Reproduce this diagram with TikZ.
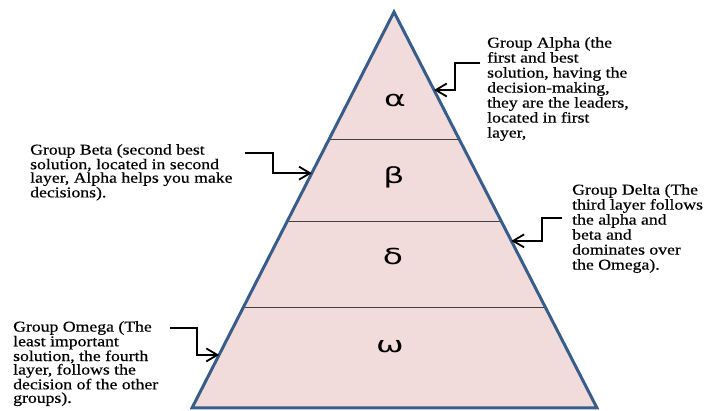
\documentclass[tikz,border=0pt]{standalone}
\usepackage{fontspec}
\setmainfont{Liberation Serif}[FakeStretch=1.18,FakeBold=0.5]
\newfontfamily\greekfont[FakeStretch=1.5]{DejaVu Sans}
\usetikzlibrary{arrows.meta,calc}
\definecolor{layerfill}{HTML}{F2DCDB}
\definecolor{layeredge}{HTML}{385D8A}
\definecolor{divline}{HTML}{404040}

\begin{document}
\begin{tikzpicture}[
  x=1pt, y=-1pt,
  note/.style={anchor=north west, inner sep=0pt, align=left,
               font=\fontsize{15pt}{#1pt}\selectfont},
  note/.default=15,
  glyph/.style={inner sep=0pt, font=\greekfont\fontsize{22pt}{22pt}\selectfont},
  arr/.style={-{Straight Barb[length=11pt,width=13pt]}, line width=1.8pt, black},
  divider/.style={line width=0.9pt, divline}
]
\useasboundingbox (0,0) rectangle (723,411);

% ---- pyramid ----
\coordinate (apex) at (394,12);
\coordinate (bl) at (192,408);
\coordinate (br) at (597,408);
\fill[layerfill] (apex) -- (bl) -- (br) -- cycle;
\draw[divider] ($(apex)!0.323!(bl)$) -- ($(apex)!0.323!(br)$);
\draw[divider] ($(apex)!0.528!(bl)$) -- ($(apex)!0.528!(br)$);
\draw[divider] ($(apex)!0.747!(bl)$) -- ($(apex)!0.747!(br)$);
\draw[layeredge, line width=3pt, line join=miter] (apex) -- (bl) -- (br) -- cycle;

% ---- layer letters ----
\node[glyph] (alpha) at (395,100) {α};
\node[glyph] (beta)  at (394,177) {β};
\node[glyph] (delta) at (393,256) {δ};
\node[glyph] (omega) at (390,347) {ω};

% ---- group notes ----
\node[note] (alphanote) at (487,37)
  {Group Alpha (the\\first and best\\solution, having the\\decision-making,\\they are the leaders,\\located in first\\layer,};
\node[note=13.5] (betanote) at (30,144)
  {Group Beta (second best\\solution, located in second\\layer, Alpha helps you make\\decisions).};
\node[note] (deltanote) at (572,184)
  {Group Delta (The\\third layer follows\\the alpha and\\beta and\\dominates over\\the Omega).};
\node[note=13.5] (omeganote) at (13,321)
  {Group Omega (The\\least important\\solution, the fourth\\layer, follows the\\decision of the other\\groups).};

% arrows
\coordinate (alphastart) at (480,63);
\coordinate (alphatip) at ($(apex)!0.197!(br)$);
\coordinate (betastart) at (245,153);
\coordinate (betatip) at ($(apex)!0.407!(bl)$);
\coordinate (deltastart) at (562,218);
\coordinate (deltatip) at ($(apex)!0.578!(br)$);
\coordinate (omegastart) at (170,328);
\coordinate (omegatip) at ($(apex)!0.866!(bl)$);

\draw[arr] (alphastart) -- ++(-25,0) |- (alphatip);
\draw[arr] (betastart) -- ++(28,0) |- (betatip);
\draw[arr] (deltastart) -- ++(-20,0) |- (deltatip);
\draw[arr] (omegastart) -- ++(27,0) |- (omegatip);
\end{tikzpicture}
\end{document}
